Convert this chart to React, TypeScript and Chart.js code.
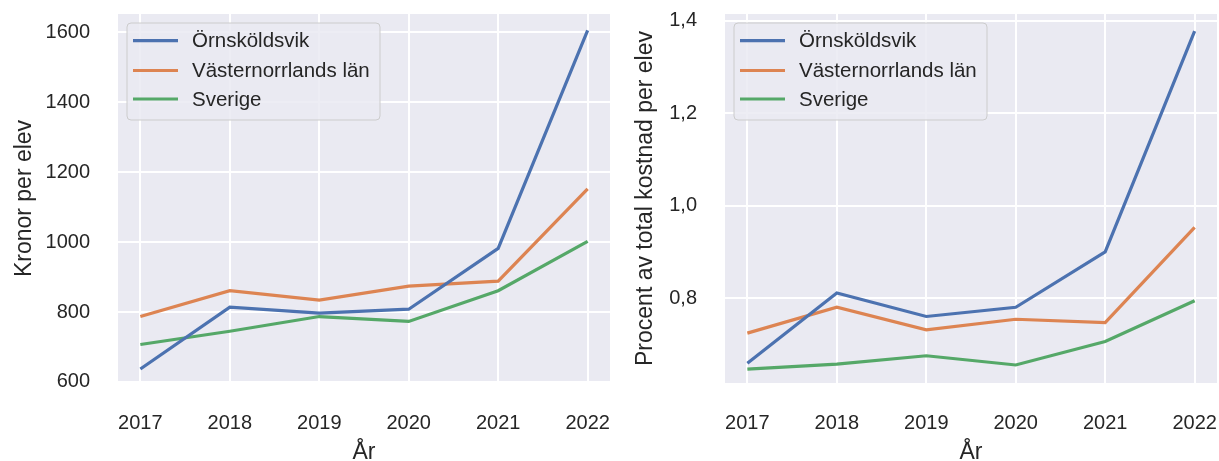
import React, { useEffect, useRef } from "react";
import { Chart, registerables } from "chart.js";

Chart.register(...registerables);

const years = [2017, 2018, 2019, 2020, 2021, 2022];
const seriesNames = ["Örnsköldsvik", "Västernorrlands län", "Sverige"];
const seriesColors = ["#4C72B0", "#DD8452", "#55A868"];

const kronorOrnskoldsvik = [637, 814, 797, 808, 982, 1605];
const kronorVasternorrland = [787, 861, 834, 874, 888, 1152];
const kronorSverige = [707, 745, 787, 773, 861, 1002];

const procentOrnskoldsvik = [0.659, 0.811, 0.76, 0.78, 0.9, 1.378];
const procentVasternorrland = [0.724, 0.78, 0.731, 0.754, 0.747, 0.953];
const procentSverige = [0.646, 0.657, 0.675, 0.655, 0.706, 0.794];

const kronorTicks = [600, 800, 1000, 1200, 1400, 1600];
const procentTicks = [0.8, 1.0, 1.2, 1.4];

const xTitle = "År";
const kronorTitle = "Kronor per elev";
const procentTitle = "Procent av total kostnad per elev";

const FONT = "'Liberation Sans', Arial, sans-serif";
const TEXT = "#262626";

const bgPlugin = {
  id: "axbg",
  beforeDraw(chart: any) {
    const { ctx, chartArea } = chart;
    ctx.save();
    ctx.fillStyle = "#EAEAF2";
    ctx.fillRect(chartArea.left, chartArea.top, chartArea.right - chartArea.left, chartArea.bottom - chartArea.top);
    ctx.restore();
  },
};

const legendPlugin = {
  id: "mplLegend",
  afterDatasetsDraw(chart: any) {
    const { ctx, chartArea } = chart;
    const x0 = chartArea.left + 9;
    const y0 = chartArea.top + 9;
    const w = 253;
    const h = 97;
    ctx.save();
    const r = 4;
    ctx.beginPath();
    ctx.moveTo(x0 + r, y0);
    ctx.lineTo(x0 + w - r, y0);
    ctx.quadraticCurveTo(x0 + w, y0, x0 + w, y0 + r);
    ctx.lineTo(x0 + w, y0 + h - r);
    ctx.quadraticCurveTo(x0 + w, y0 + h, x0 + w - r, y0 + h);
    ctx.lineTo(x0 + r, y0 + h);
    ctx.quadraticCurveTo(x0, y0 + h, x0, y0 + h - r);
    ctx.lineTo(x0, y0 + r);
    ctx.quadraticCurveTo(x0, y0, x0 + r, y0);
    ctx.closePath();
    ctx.fillStyle = "rgba(234,234,242,0.85)";
    ctx.fill();
    ctx.strokeStyle = "#CCCCCC";
    ctx.lineWidth = 1;
    ctx.stroke();
    const rows = [17.7, 47.5, 76];
    chart.data.datasets.forEach((ds: any, i: number) => {
      const y = y0 + rows[i];
      ctx.beginPath();
      ctx.moveTo(x0 + 6, y);
      ctx.lineTo(x0 + 51, y);
      ctx.strokeStyle = ds.borderColor;
      ctx.lineWidth = 3.2;
      ctx.lineCap = "butt";
      ctx.stroke();
      ctx.fillStyle = TEXT;
      ctx.font = `20.5px ${FONT}`;
      ctx.textBaseline = "middle";
      ctx.textAlign = "left";
      ctx.fillText(ds.label, x0 + 65, y + 1);
    });
    ctx.restore();
  },
};

function makeConfig(
  series: number[][],
  ticks: number[],
  yMin: number,
  yMax: number,
  yTitle: string,
  yAxisWidth: number,
  yTitlePad: number,
  fmt: (v: number) => string
): any {
  return {
    type: "line",
    data: {
      datasets: series.map((vals, i) => ({
        label: seriesNames[i],
        data: vals.map((v, j) => ({ x: years[j], y: v })),
        borderColor: seriesColors[i],
        backgroundColor: seriesColors[i],
        borderWidth: 3.2,
        pointRadius: 0,
        tension: 0,
        fill: false,
      })),
    },
    options: {
      animation: false,
      responsive: false,
      devicePixelRatio: 1,
      layout: { padding: { top: 14, right: 2, bottom: 0, left: 0 } },
      plugins: { legend: { display: false }, tooltip: { enabled: false } },
      scales: {
        x: {
          type: "linear",
          min: 2016.75,
          max: 2022.25,
          afterBuildTicks: (scale: any) => {
            scale.ticks = years.map((v) => ({ value: v }));
          },
          afterFit: (scale: any) => {
            scale.height = 78;
            scale.paddingLeft = 0;
            scale.paddingRight = 0;
          },
          grid: { color: "#FFFFFF", lineWidth: 2, drawTicks: false },
          border: { display: false },
          ticks: {
            color: TEXT,
            padding: 28,
            font: { family: FONT, size: 20 },
            maxRotation: 0,
            callback: (v: any) => String(v),
          },
          title: {
            display: true,
            text: xTitle,
            color: TEXT,
            font: { family: FONT, size: 23 },
            padding: { top: 0, bottom: -5 },
          },
        },
        y: {
          type: "linear",
          min: yMin,
          max: yMax,
          afterBuildTicks: (scale: any) => {
            scale.ticks = ticks.map((v) => ({ value: v }));
          },
          afterFit: (scale: any) => {
            scale.width = yAxisWidth;
            scale.paddingTop = 0;
            scale.paddingBottom = 0;
          },
          grid: { color: "#FFFFFF", lineWidth: 2, drawTicks: false },
          border: { display: false },
          ticks: {
            color: TEXT,
            padding: 28,
            font: { family: FONT, size: 20 },
            callback: (v: any) => fmt(Number(v)),
          },
          title: {
            display: true,
            text: yTitle,
            color: TEXT,
            font: { family: FONT, size: 23 },
            padding: { top: yTitlePad, bottom: 0 },
          },
        },
      },
    },
    plugins: [bgPlugin, legendPlugin],
  };
}

export default function App() {
  const leftRef = useRef<HTMLCanvasElement | null>(null);
  const rightRef = useRef<HTMLCanvasElement | null>(null);

  useEffect(() => {
    const c1 = new Chart(
      leftRef.current as HTMLCanvasElement,
      makeConfig(
        [kronorOrnskoldsvik, kronorVasternorrland, kronorSverige],
        kronorTicks,
        597,
        1652,
        kronorTitle,
        118,
        11,
        (v) => String(Math.round(v))
      )
    );
    const c2 = new Chart(
      rightRef.current as HTMLCanvasElement,
      makeConfig(
        [procentOrnskoldsvik, procentVasternorrland, procentSverige],
        procentTicks,
        0.616,
        1.415,
        procentTitle,
        113,
        20,
        (v) => v.toFixed(1).replace(".", ",")
      )
    );
    return () => {
      c1.destroy();
      c2.destroy();
    };
  }, []);

  return (
    <div style={{ position: "fixed", left: 0, top: 0, width: 1219, height: 461, background: "#FFFFFF", overflow: "hidden" }}>
      <canvas ref={leftRef} width={612} height={461} style={{ position: "absolute", left: 0, top: 0, width: 612, height: 461 }} />
      <canvas ref={rightRef} width={607} height={461} style={{ position: "absolute", left: 612, top: 0, width: 607, height: 461 }} />
    </div>
  );
}
